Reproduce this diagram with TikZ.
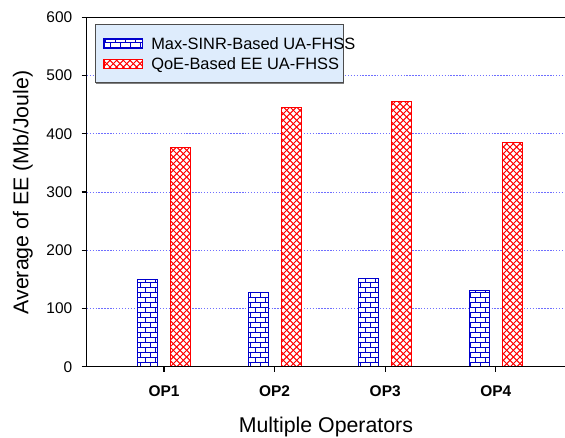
\documentclass[tikz,border=0pt]{standalone}
\usepackage{fontspec}
\setmainfont{Liberation Sans}
\usetikzlibrary{patterns}

\definecolor{barblue}{RGB}{0,0,204}
\definecolor{barred}{RGB}{255,0,0}
\definecolor{gridblue}{RGB}{110,110,255}
\definecolor{legendfill}{RGB}{222,236,252}

% small fill patterns of the two bar series
\pgfdeclarepatternformonly{smallbricks}{\pgfpoint{-0.5pt}{-0.5pt}}{\pgfpoint{8pt}{8pt}}{\pgfpoint{7.5pt}{7.5pt}}{
  \pgfsetlinewidth{0.75pt}
  \pgfpathmoveto{\pgfpoint{0pt}{0pt}}\pgfpathlineto{\pgfpoint{7.5pt}{0pt}}
  \pgfpathmoveto{\pgfpoint{0pt}{3.75pt}}\pgfpathlineto{\pgfpoint{7.5pt}{3.75pt}}
  \pgfpathmoveto{\pgfpoint{0pt}{0pt}}\pgfpathlineto{\pgfpoint{0pt}{3.75pt}}
  \pgfpathmoveto{\pgfpoint{3.75pt}{3.75pt}}\pgfpathlineto{\pgfpoint{3.75pt}{7.5pt}}
  \pgfusepath{stroke}}
\pgfdeclarepatternformonly{smallcross}{\pgfpoint{-0.5pt}{-0.5pt}}{\pgfpoint{5.5pt}{5.5pt}}{\pgfpoint{5pt}{5pt}}{
  \pgfsetlinewidth{0.75pt}
  \pgfpathmoveto{\pgfpoint{0pt}{0pt}}\pgfpathlineto{\pgfpoint{5pt}{5pt}}
  \pgfpathmoveto{\pgfpoint{0pt}{5pt}}\pgfpathlineto{\pgfpoint{5pt}{0pt}}
  \pgfusepath{stroke}}

\begin{document}
\begin{tikzpicture}
  [x=0.75pt, y=0.75pt,
   axis/.style={draw=black, line width=0.8pt},
   gridline/.style={draw=gridblue, line width=0.75pt, dash pattern=on 1pt off 1.2pt},
   sinrbar/.style={draw=barblue, line width=0.9pt, preaction={fill=white}, pattern=smallbricks, pattern color=barblue},
   qoebar/.style={draw=barred, line width=0.9pt, preaction={fill=white}, pattern=smallcross, pattern color=barred},
   ticklabel/.style={inner sep=0pt, font=\fontsize{11.6}{14}\selectfont},
   oplabel/.style={inner sep=0pt, font=\fontsize{11.6}{14}\selectfont\bfseries},
   legendtext/.style={inner sep=0pt, font=\fontsize{12.3}{15}\selectfont},
   axislabel/.style={inner sep=0pt, font=\fontsize{16}{19}\selectfont}]
  \useasboundingbox (0,0) rectangle (565,437);

  % data part: x in pixels, y in Mb/Joule
  \begin{scope}[shift={(0,70.3)}, y=0.43673pt]
    \draw [gridline] (86.7,100) -- (565,100);
    \draw [gridline] (86.7,200) -- (565,200);
    \draw [gridline] (86.7,300) -- (565,300);
    \draw [gridline] (86.7,400) -- (565,400);
    \draw [gridline] (86.7,500) -- (565,500);

    \draw [sinrbar] (137.5,0) rectangle (157.5,150);
    \draw [qoebar] (170.5,0) rectangle (190.5,377);
    \draw [sinrbar] (248.1,0) rectangle (268.1,127);
    \draw [qoebar] (281.1,0) rectangle (301.1,445);
    \draw [sinrbar] (358.7,0) rectangle (378.7,152);
    \draw [qoebar] (391.7,0) rectangle (411.7,456);
    \draw [sinrbar] (469.3,0) rectangle (489.3,131);
    \draw [qoebar] (502.3,0) rectangle (522.3,385);

    \draw [axis] (565,0) -- (86.7,0) -- (86.7,600) -- (565,600);
    \draw [axis] (81.7,0) -- (86.7,0);
    \draw [axis] (81.7,100) -- (86.7,100);
    \draw [axis] (81.7,200) -- (86.7,200);
    \draw [axis] (81.7,300) -- (86.7,300);
    \draw [axis] (81.7,400) -- (86.7,400);
    \draw [axis] (81.7,500) -- (86.7,500);
    \draw [axis] (81.7,600) -- (86.7,600);

    \node (y0) [ticklabel, anchor=east] at (72.5,0) {0};
    \node (y100) [ticklabel, anchor=east] at (72.5,100) {100};
    \node (y200) [ticklabel, anchor=east] at (72.5,200) {200};
    \node (y300) [ticklabel, anchor=east] at (72.5,300) {300};
    \node (y400) [ticklabel, anchor=east] at (72.5,400) {400};
    \node (y500) [ticklabel, anchor=east] at (72.5,500) {500};
    \node (y600) [ticklabel, anchor=east] at (72.5,600) {600};
  \end{scope}

  % operators
  \draw [axis] (164,70.3) -- (164,65.3);
  \draw [axis] (274.6,70.3) -- (274.6,65.3);
  \draw [axis] (385.2,70.3) -- (385.2,65.3);
  \draw [axis] (495.8,70.3) -- (495.8,65.3);
  \node (op1) [oplabel] at (164,46) {OP1};
  \node (op2) [oplabel] at (274.6,46) {OP2};
  \node (op3) [oplabel] at (385.2,46) {OP3};
  \node (op4) [oplabel] at (495.8,46) {OP4};

  \node (xlabel) [axislabel, anchor=base] at (325.9,4.3) {Multiple Operators};
  \node (ylabel) [axislabel, rotate=90, anchor=base] at (28.3,244.5) {Average of EE (Mb/Joule)};

  % legend
  \fill [gray] (96.2,353.1) rectangle (344.2,411.5);
  \draw [fill=legendfill, draw=gray!60!black, line width=0.6pt] (95,354.3) rectangle (343,412.7);
  \draw [sinrbar] (104,388.7) rectangle (142.3,398);
  \draw [qoebar] (104,368.7) rectangle (142.3,377.7);
  \node (sinrkey) [legendtext, anchor=base west] at (151,388) {Max-SINR-Based UA-FHSS};
  \node (qoekey) [legendtext, anchor=base west] at (151,367.7) {QoE-Based EE UA-FHSS};
\end{tikzpicture}
\end{document}
